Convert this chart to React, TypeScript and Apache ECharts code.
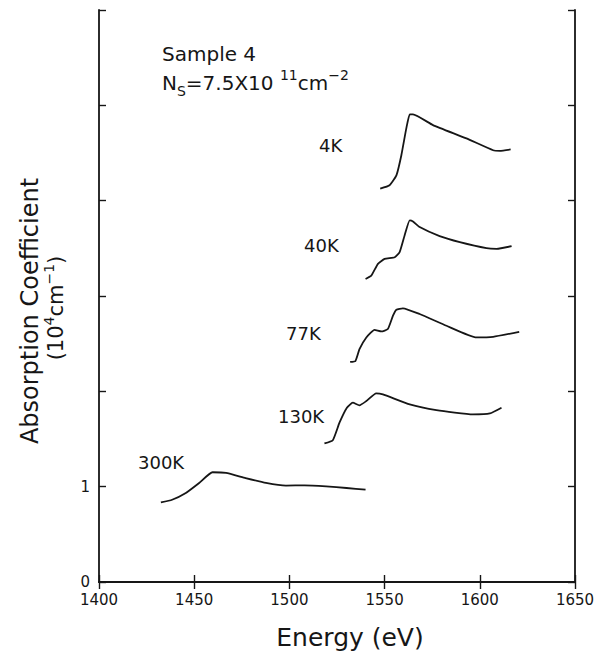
import React, { useEffect, useRef } from "react";
import * as echarts from "echarts";

// Axis ticks
const xMin = 1400;
const xMax = 1650;
const xStep = 50;
const yMin = 0;
const yMax = 6;
const yStep = 1;
const yLabelsShown = [0, 1];

// 4K
const e4K = [1547.7, 1552.6, 1556.2, 1558.8, 1561.4, 1563.2, 1564.9, 1575.4, 1593.0, 1607.0, 1610.5, 1616.2];
const a4K = [4.126, 4.161, 4.266, 4.477, 4.758, 4.905, 4.905, 4.793, 4.653, 4.529, 4.523, 4.537];
// 40K
const e40K = [1540, 1543, 1546.5, 1550, 1555.3, 1557.9, 1560.5, 1563.2, 1564.9, 1568.4, 1578.9, 1589.5, 1603.5, 1608.8, 1616.7];
const a40K = [3.179, 3.214, 3.337, 3.389, 3.407, 3.46, 3.635, 3.793, 3.782, 3.723, 3.628, 3.565, 3.502, 3.495, 3.523];
// 77K
const e77K = [1531.9, 1534.7, 1536.8, 1540.4, 1544.7, 1548.3, 1551.7, 1554.4, 1556.2, 1559.6, 1568.4, 1582.5, 1598.3, 1607, 1620.7];
const a77K = [2.308, 2.319, 2.442, 2.565, 2.645, 2.628, 2.653, 2.793, 2.856, 2.871, 2.811, 2.688, 2.565, 2.572, 2.624];
// 130K
const e130K = [1518.4, 1522.8, 1526.3, 1530.2, 1533.3, 1536.8, 1540.4, 1545.6, 1549.1, 1563.2, 1577.2, 1596.4, 1605.3, 1611.4];
const a130K = [1.453, 1.487, 1.671, 1.828, 1.881, 1.853, 1.898, 1.979, 1.968, 1.863, 1.803, 1.758, 1.768, 1.828];
// 300K
const e300K = [1432.5, 1438.4, 1445.6, 1452.6, 1459.6, 1466.7, 1477, 1487.7, 1498.2, 1508, 1519.3, 1530, 1540];
const a300K = [0.835, 0.863, 0.934, 1.039, 1.151, 1.144, 1.09, 1.039, 1.011, 1.014, 1.003, 0.986, 0.968];

const seriesNames = ["4K", "40K", "77K", "130K", "300K"];
const seriesE = [e4K, e40K, e77K, e130K, e300K];
const seriesA = [a4K, a40K, a77K, a130K, a300K];

const FONT = "DejaVu Sans";
const INK = "#161616";

export default function App() {
  const ref = useRef<HTMLDivElement>(null);
  useEffect(() => {
    if (!ref.current) return;
    const chart = echarts.init(ref.current, null, { renderer: "svg" });
    const axisLine = { show: true, lineStyle: { color: INK, width: 1.8 } };
    const tick = { show: true, inside: true, length: 7, lineStyle: { color: INK, width: 1.4 } };
    const option: any = {
      animation: false,
      backgroundColor: "#ffffff",
      grid: { left: 99, right: 28, top: 10, bottom: 70, containLabel: false },
      xAxis: [
        {
          type: "value",
          min: xMin,
          max: xMax,
          interval: xStep,
          position: "bottom",
          axisLine,
          axisTick: tick,
          splitLine: { show: false },
          axisLabel: {
            color: INK,
            fontFamily: FONT,
            fontSize: 15,
            margin: 10,
            formatter: (v: number) => String(v),
          },
        },
        {
          type: "value",
          min: xMin,
          max: xMax,
          interval: xStep,
          position: "top",
          axisLine,
          axisTick: tick,
          splitLine: { show: false },
          axisLabel: { show: false },
        },
      ],
      yAxis: [
        {
          type: "value",
          min: yMin,
          max: yMax,
          interval: yStep,
          position: "left",
          axisLine,
          axisTick: tick,
          splitLine: { show: false },
          axisLabel: {
            color: INK,
            fontFamily: FONT,
            fontSize: 15,
            margin: 9,
            formatter: (v: number) => (yLabelsShown.includes(v) ? String(v) : ""),
          },
        },
        {
          type: "value",
          min: yMin,
          max: yMax,
          interval: yStep,
          position: "right",
          axisLine,
          axisTick: tick,
          splitLine: { show: false },
          axisLabel: { show: false },
        },
      ],
      series: seriesNames.map((name, i) => ({
        name,
        type: "line",
        xAxisIndex: 0,
        yAxisIndex: 0,
        data: seriesE[i].map((e, j) => [e, seriesA[i][j]]),
        showSymbol: false,
        symbol: "none",
        smooth: 0.15,
        lineStyle: { color: INK, width: 1.8 },
      })),
      graphic: [
        {
          type: "text",
          left: 162,
          top: 44,
          style: { text: "Sample 4", font: `20px "${FONT}"`, fill: INK },
        },
        {
          type: "text",
          left: 162,
          top: 68,
          style: {
            text: "{n|N}{sub|S}{n|=7.5X10 }{sup|11}{n|cm}{sup|−2}",
            fill: INK,
            rich: {
              n: { fontFamily: FONT, fontSize: 20, lineHeight: 30, verticalAlign: "middle", fill: INK },
              sub: { fontFamily: FONT, fontSize: 14, lineHeight: 14, verticalAlign: "bottom", fill: INK },
              sup: { fontFamily: FONT, fontSize: 14, lineHeight: 14, verticalAlign: "top", fill: INK },
            },
          },
        },
        { type: "text", x: 319, y: 145, style: { text: "4K", font: `18px "${FONT}"`, fill: INK, verticalAlign: "middle" } },
        { type: "text", x: 304, y: 245, style: { text: "40K", font: `18px "${FONT}"`, fill: INK, verticalAlign: "middle" } },
        { type: "text", x: 286, y: 333, style: { text: "77K", font: `18px "${FONT}"`, fill: INK, verticalAlign: "middle" } },
        { type: "text", x: 278, y: 416, style: { text: "130K", font: `18px "${FONT}"`, fill: INK, verticalAlign: "middle" } },
        { type: "text", x: 138, y: 462, style: { text: "300K", font: `18px "${FONT}"`, fill: INK, verticalAlign: "middle" } },
        {
          type: "text",
          x: 30,
          y: 311,
          rotation: Math.PI / 2,
          style: {
            text: "Absorption Coefficient",
            font: `24px "${FONT}"`,
            fill: INK,
            align: "center",
            verticalAlign: "middle",
          },
        },
        {
          type: "text",
          x: 56,
          y: 308,
          rotation: Math.PI / 2,
          style: {
            text: "{n|(10}{sup|4}{n|cm}{sup|−1}{n|)}",
            align: "center",
            verticalAlign: "middle",
            fill: INK,
            rich: {
              n: { fontFamily: FONT, fontSize: 21, lineHeight: 28, verticalAlign: "middle", fill: INK },
              sup: { fontFamily: FONT, fontSize: 14, lineHeight: 14, verticalAlign: "top", fill: INK },
            },
          },
        },
        {
          type: "text",
          x: 350,
          y: 637,
          style: {
            text: "Energy (eV)",
            font: `25px "${FONT}"`,
            fill: INK,
            align: "center",
            verticalAlign: "middle",
          },
        },
      ],
    };
    chart.setOption(option);
    return () => chart.dispose();
  }, []);
  return <div ref={ref} style={{ width: 603, height: 652, position: "absolute", left: 0, top: 0 }} />;
}
